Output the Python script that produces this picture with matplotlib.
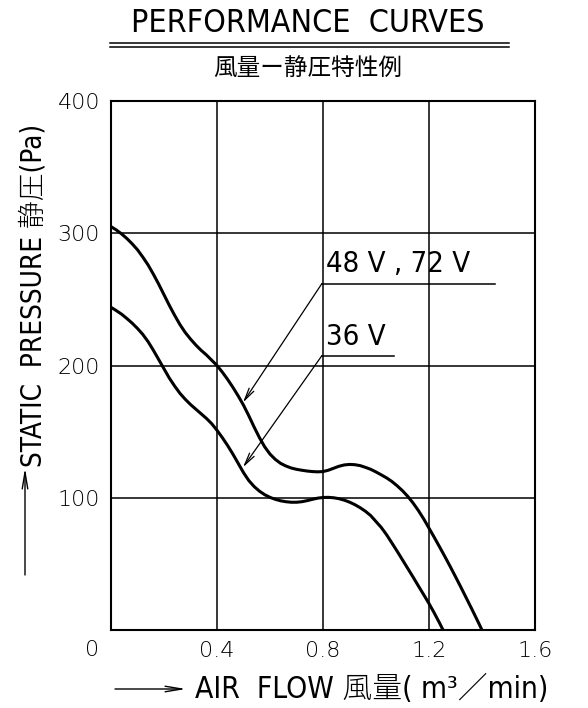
import matplotlib
matplotlib.use("Agg")
import matplotlib.pyplot as plt

plt.rcParams['font.family'] = ['DejaVu Sans', 'Noto Sans CJK JP']
FAM = ['DejaVu Sans', 'Noto Sans CJK JP']

# data
flow_48_72 = [0.00, 0.02, 0.04, 0.06, 0.08, 0.10, 0.12, 0.14, 0.16, 0.18, 0.20, 0.22, 0.24,
              0.26, 0.28, 0.30, 0.32, 0.34, 0.36, 0.38, 0.40, 0.42, 0.44, 0.46, 0.48, 0.50,
              0.52, 0.54, 0.56, 0.58, 0.60, 0.62, 0.64, 0.66, 0.68, 0.70, 0.72, 0.74, 0.76,
              0.78, 0.80, 0.82, 0.84, 0.86, 0.88, 0.90, 0.92, 0.94, 0.96, 0.98, 1.00, 1.02,
              1.04, 1.06, 1.08, 1.10, 1.12, 1.14, 1.16, 1.18, 1.20, 1.22, 1.24, 1.26, 1.28,
              1.30, 1.32, 1.34, 1.36, 1.38, 1.40]
pres_48_72 = [305, 302.5, 299.5, 296, 292, 287.5, 282, 276, 269, 261.5, 253.5, 245.5, 238,
              231, 225, 220, 215.5, 211.5, 208, 204, 200, 195, 189.5, 183.5, 177, 170,
              162, 153.5, 145.5, 138.5, 133, 129, 126, 124, 122.5, 121.5, 120.8, 120.2, 119.8,
              119.6, 119.8, 120.8, 122.3, 123.8, 124.8, 125.2, 125, 124.3, 123, 121.5, 119.5, 117.3,
              115, 112.3, 109, 105.3, 101, 96, 90.3, 84, 77, 70, 62.8, 55.5, 48,
              40.3, 32.5, 24.5, 16.5, 8.3, 0]
flow_36 = [0.00, 0.02, 0.04, 0.06, 0.08, 0.10, 0.12, 0.14, 0.16, 0.18, 0.20, 0.22, 0.24,
           0.26, 0.28, 0.30, 0.32, 0.34, 0.36, 0.38, 0.40, 0.42, 0.44, 0.46, 0.48, 0.50,
           0.52, 0.54, 0.56, 0.58, 0.60, 0.62, 0.64, 0.66, 0.68, 0.70, 0.72, 0.74, 0.76,
           0.78, 0.80, 0.82, 0.84, 0.86, 0.88, 0.90, 0.92, 0.94, 0.96, 0.98, 1.00, 1.02,
           1.04, 1.06, 1.08, 1.10, 1.12, 1.14, 1.16, 1.18, 1.20, 1.22, 1.24, 1.253]
pres_36 = [244, 241.5, 238.8, 235.5, 232, 228, 223.5, 218, 211.5, 204.5, 197.5, 190.5, 184.5,
           179, 174.5, 170.5, 167, 163.5, 160, 156, 151, 145.5, 139.5, 133, 126, 119,
           113, 108.5, 105, 102.3, 100.3, 98.8, 97.7, 97, 96.6, 96.6, 97, 97.8, 98.8,
           99.7, 100.2, 100.3, 100, 99.3, 98.2, 96.7, 94.8, 92.5, 89.8, 86.5, 82, 77.5,
           72, 65.8, 59.5, 53, 46.5, 40, 33.3, 26.7, 20, 12.8, 5.2, 0]

x_ticks = [0.4, 0.8, 1.2, 1.6]
x_tick_labels = ['0.4', '0.8', '1.2', '1.6']
y_ticks = [100, 200, 300, 400]
y_tick_labels = ['100', '200', '300', '400']

label_48_72 = '48 V , 72 V'
label_36 = '36 V'
title = 'PERFORMANCE  CURVES'
subtitle = '風量ー静圧特性例'
xlabel = 'AIR  FLOW 風量( m³／min)'
ylabel = 'STATIC  PRESSURE 静圧(Pa)'

fig = plt.figure(figsize=(5.88, 7.08), dpi=100)
ax = fig.add_axes([111/588, 78/708, 424/588, 529/708])
ax.set_xlim(0, 1.6)
ax.set_ylim(0, 400)

ax.plot(flow_48_72, pres_48_72, color='black', lw=2.2, solid_capstyle='round',
        solid_joinstyle='round', zorder=3)
ax.plot(flow_36, pres_36, color='black', lw=2.2, solid_capstyle='round',
        solid_joinstyle='round', zorder=3)

ax.set_xticks(x_ticks)
ax.set_xticklabels(x_tick_labels)
ax.set_yticks(y_ticks)
ax.set_yticklabels(y_tick_labels)
ax.tick_params(length=0, labelsize=16, pad=8)
for lab in ax.get_xticklabels() + ax.get_yticklabels():
    lab.set_fontweight('light')
ax.grid(True, color='black', lw=1.1)
for s in ax.spines.values():
    s.set_linewidth(1.5)

# origin label
fig.text(92/588, 1 - 650/708, '0', ha='center', va='center', fontsize=16, fontweight='light')

cond = dict(family=FAM, fontstretch='condensed', fontweight='light')

# annotations
ax.plot([0.796, 1.45], [262, 262], color='black', lw=1.1, clip_on=False)
ax.annotate('', xy=(0.498, 172), xytext=(0.796, 262),
            arrowprops=dict(arrowstyle='->,head_length=0.9,head_width=0.2', lw=0.9, color='black',
                            shrinkA=0, shrinkB=0))
ax.text(0.812, 266, label_48_72, ha='left', va='bottom', fontsize=21, **cond)
ax.plot([0.796, 1.068], [207.5, 207.5], color='black', lw=1.1)
ax.annotate('', xy=(0.498, 123), xytext=(0.796, 207.5),
            arrowprops=dict(arrowstyle='->,head_length=0.9,head_width=0.2', lw=0.9, color='black',
                            shrinkA=0, shrinkB=0))
ax.text(0.812, 211, label_36, ha='left', va='bottom', fontsize=21, **cond)

# title
fig.text(308/588, 1 - 32/708, title, ha='center', va='baseline', fontsize=23, **cond)
fig.add_artist(plt.Line2D([110/588, 509/588], [1 - 43/708, 1 - 43/708], color='black', lw=1.1))
fig.add_artist(plt.Line2D([110/588, 509/588], [1 - 47/708, 1 - 47/708], color='black', lw=1.1))
fig.text(308/588, 1 - 68/708, subtitle, ha='center', va='center', fontsize=17)

# x label with arrow
fig.text(195/588, 1 - 689/708, xlabel, ha='left', va='center', fontsize=21.5, **cond)
ax.annotate('', xy=(186/588, 1 - 689/708), xytext=(115/588, 1 - 689/708),
            xycoords='figure fraction', textcoords='figure fraction',
            arrowprops=dict(arrowstyle='->,head_length=1.2,head_width=0.2', lw=1.0, color='black',
                            shrinkA=0, shrinkB=0))

# y label with arrow
fig.text(34/588, 1 - 467/708, ylabel, ha='center', va='bottom', rotation=90, fontsize=20, **cond)
ax.annotate('', xy=(25/588, 1 - 468/708), xytext=(25/588, 1 - 575/708),
            xycoords='figure fraction', textcoords='figure fraction',
            arrowprops=dict(arrowstyle='->,head_length=1.2,head_width=0.2', lw=1.0, color='black',
                            shrinkA=0, shrinkB=0))

fig.savefig('out.png', dpi=100)
